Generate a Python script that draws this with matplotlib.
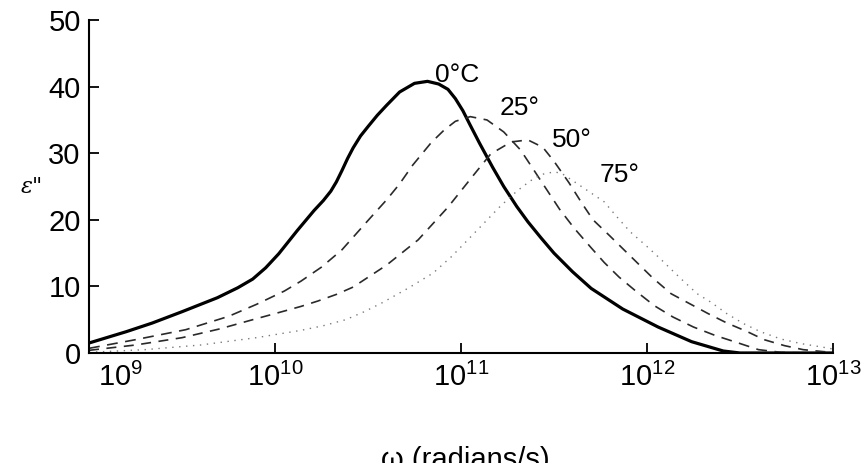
import numpy as np
import matplotlib
matplotlib.use('Agg')
import matplotlib.pyplot as plt
from matplotlib.ticker import FixedLocator, FuncFormatter, NullLocator
from matplotlib.transforms import ScaledTranslation


plt.rcParams['font.family'] = ['Liberation Sans', 'DejaVu Sans']
plt.rcParams['mathtext.fontset'] = 'custom'
plt.rcParams['mathtext.rm'] = 'Liberation Sans'

# log10 of omega and eps'', one pair per temperature
logw_0 = [9.0, 9.2, 9.34, 9.5, 9.69, 9.8, 9.88, 9.95, 10.02, 10.12, 10.21, 10.26, 10.3,
          10.33, 10.36, 10.39, 10.42, 10.46, 10.5, 10.55, 10.6, 10.67, 10.75, 10.82,
          10.88, 10.93, 10.97, 11.01, 11.05, 11.1, 11.17, 11.23, 11.3, 11.36, 11.43,
          11.5, 11.6, 11.7, 11.87, 12.06, 12.24, 12.41, 12.5, 13.0]
eps_0 = [1.5, 3.2, 4.5, 6.2, 8.3, 9.8, 11.1, 12.8, 14.9, 18.4, 21.4, 22.9, 24.3,
         25.7, 27.4, 29.2, 30.8, 32.6, 34.0, 35.7, 37.2, 39.2, 40.5, 40.8,
         40.4, 39.6, 38.2, 36.4, 34.2, 31.5, 27.9, 25.0, 22.0, 19.7, 17.3,
         15.0, 12.2, 9.7, 6.6, 3.9, 1.7, 0.3, 0.0, 0.0]

logw_25 = [9.0, 9.25, 9.52, 9.75, 9.9, 10.05, 10.14, 10.25, 10.36, 10.5, 10.6, 10.67,
           10.74, 10.84, 10.91, 10.97, 11.05, 11.14, 11.23, 11.32, 11.37, 11.45, 11.53,
           11.61, 11.7, 11.77, 11.85, 11.94, 12.04, 12.14, 12.25, 12.37, 12.47, 12.6,
           12.72, 12.85, 13.0]
eps_25 = [0.7, 2.0, 3.5, 5.5, 7.3, 9.3, 10.8, 12.9, 15.5, 19.9, 23.0, 25.4,
          28.2, 31.6, 33.5, 34.8, 35.5, 35.0, 33.2, 30.5, 28.4, 25.0, 21.6,
          18.7, 15.8, 13.6, 11.4, 9.3, 7.1, 5.4, 3.9, 2.6, 1.7, 0.5,
          0.1, 0.0, 0.0]

logw_50 = [9.0, 9.25, 9.5, 9.7, 9.88, 10.05, 10.14, 10.23, 10.33, 10.42, 10.6, 10.77,
           10.93, 11.07, 11.16, 11.27, 11.36, 11.44, 11.5, 11.58, 11.65, 11.71, 11.8,
           11.88, 12.03, 12.13, 12.23, 12.33, 12.43, 12.54, 12.63, 12.74, 12.84, 12.95, 13.0]
eps_50 = [0.4, 1.2, 2.3, 3.6, 5.0, 6.3, 7.0, 7.8, 8.8, 9.9, 13.2, 17.0,
          21.9, 26.8, 29.9, 31.7, 32.0, 30.9, 28.8, 25.6, 22.5, 20.0, 17.6,
          15.4, 11.3, 8.9, 7.4, 5.9, 4.5, 3.2, 2.0, 1.1, 0.5, 0.2, 0.1]

logw_75 = [9.0, 9.3, 9.6, 9.9, 10.14, 10.26, 10.38, 10.48, 10.58, 10.72, 10.85, 10.95,
           11.03, 11.12, 11.21, 11.3, 11.37, 11.43, 11.5, 11.54, 11.6, 11.68, 11.77,
           11.84, 11.91, 12.0, 12.07, 12.14, 12.2, 12.27, 12.34, 12.43, 12.52, 12.61,
           12.72, 12.83, 12.94, 13.0]
eps_75 = [0.1, 0.5, 1.2, 2.3, 3.4, 4.1, 5.0, 6.2, 7.6, 9.8, 12.0, 14.5,
          16.8, 19.4, 22.0, 24.3, 25.8, 26.8, 27.2, 27.0, 25.9, 24.4, 22.7,
          20.4, 18.2, 16.0, 14.2, 12.3, 10.7, 8.9, 7.7, 5.9, 4.4, 3.2,
          2.1, 1.4, 0.9, 0.6]

labels = ['0°C', '25°', '50°', '75°']
label_logw = [10.98, 11.315, 11.595, 11.853]
label_eps = [41.7, 36.8, 32.0, 26.7]

y_ticks = [0, 10, 20, 30, 40, 50]
x_decades = [9, 10, 11, 12, 13]


def draw_curves(ax):
    w = lambda l: 10.0 ** np.array(l)
    ax.plot(w(logw_0), eps_0, color='black', lw=2.3, solid_joinstyle='round')
    ax.plot(w(logw_25), eps_25, color='#2a2a2a', lw=1.2, dashes=(6.5, 4.5))
    ax.plot(w(logw_50), eps_50, color='#2a2a2a', lw=1.2, dashes=(6, 4.5))
    ax.plot(w(logw_75), eps_75, color='#7a7a7a', lw=1.0, dashes=(1, 4))
    for text, lx, ly in zip(labels, label_logw, label_eps):
        ax.text(10.0 ** lx, ly, text, fontsize=19, ha='center', va='center')


def style_axes(fig, ax):
    ax.set_xscale('log')
    ax.set_xlim(1e9, 1e13)
    ax.set_ylim(0, 50)
    ax.spines['top'].set_visible(False)
    ax.spines['right'].set_visible(False)
    ax.spines['left'].set_linewidth(1.5)
    ax.spines['bottom'].set_linewidth(1.5)
    ax.xaxis.set_major_locator(FixedLocator([10.0 ** d for d in x_decades]))
    ax.xaxis.set_minor_locator(NullLocator())
    ax.xaxis.set_major_formatter(FuncFormatter(
        lambda v, p: r'$\mathregular{10^{%d}}$' % round(np.log10(v))))
    ax.set_yticks(y_ticks)
    ax.tick_params(direction='in', length=7, width=1.3, labelsize=21, pad=6)
    ax.tick_params(axis='x', pad=7)
    # first x label sits to the right of its tick, clear of the "0"
    first = ax.xaxis.get_major_ticks()[0].label1
    first.set_horizontalalignment('left')
    first.set_transform(first.get_transform() + ScaledTranslation(0.09, 0, fig.dpi_scale_trans))


fig = plt.figure(figsize=(8.61, 4.63), dpi=100)
ax = fig.add_axes([0.1034, 0.2376, 0.864, 0.719])
draw_curves(ax)
style_axes(fig, ax)

fig.text(0.037, 0.596, 'ε"', family='DejaVu Serif', style='italic', fontsize=16,
         ha='center', va='center')
fig.text(0.541, 0.0367, 'ω (radians/s)', fontsize=21, ha='center', va='top')

fig.savefig('out.png', dpi=100)
